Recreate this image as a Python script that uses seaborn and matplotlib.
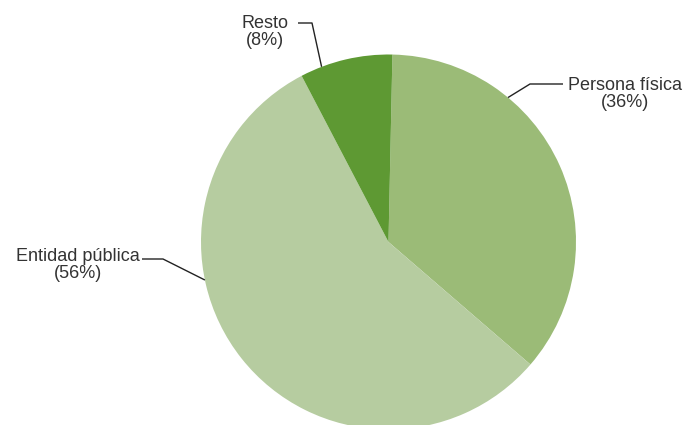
import numpy as np
import matplotlib
matplotlib.use("Agg")
import matplotlib.pyplot as plt
import seaborn as sns

categories = ["Persona física", "Entidad pública", "Resto"]
values = [36, 56, 8]
labels = ["Persona física\n(36%)", "Entidad pública\n(56%)", "Resto\n(8%)"]
colors = ["#9bbb77", "#b6cca0", "#5e9933"]

sns.set_theme(style="white")
plt.rcParams["font.family"] = ["Liberation Sans", "DejaVu Sans"]

fig = plt.figure(figsize=(6.84, 4.25), dpi=100)
ax = fig.add_axes([0, 0, 1, 1])

cx, cy, r = 388.5, 183.0, 187.5
start = 88.8
wedges, _ = ax.pie(values, colors=colors, startangle=start, counterclock=False,
                   center=(cx, cy), radius=r, frame=True,
                   wedgeprops=dict(linewidth=0))
ax.set_xlim(0, 684)
ax.set_ylim(0, 425)
ax.set_aspect("equal")
ax.axis("off")

# leader-line anchor angles on the rim (degrees), elbow and text positions
anchor_ang = [50.4, 191.7, 110.9]
elbows = [[(530, 341), (563, 341)], [(163, 166), (142, 166)], [(312, 402), (298, 402)]]
text_pos = [(625, 331), (78, 160), (265, 393)]
txt_color = "#333333"

for ang, elb, tp, lab in zip(anchor_ang, elbows, text_pos, labels):
    a = np.deg2rad(ang)
    px, py = cx + r * np.cos(a), cy + r * np.sin(a)
    xs = [px] + [e[0] for e in elb]
    ys = [py] + [e[1] for e in elb]
    ax.plot(xs, ys, color="#222222", lw=1.0, solid_capstyle="butt")
    ax.text(tp[0], tp[1], lab, ha="center", va="center",
            fontsize=13, color=txt_color, linespacing=1.0)

fig.savefig("out.png", dpi=100)
